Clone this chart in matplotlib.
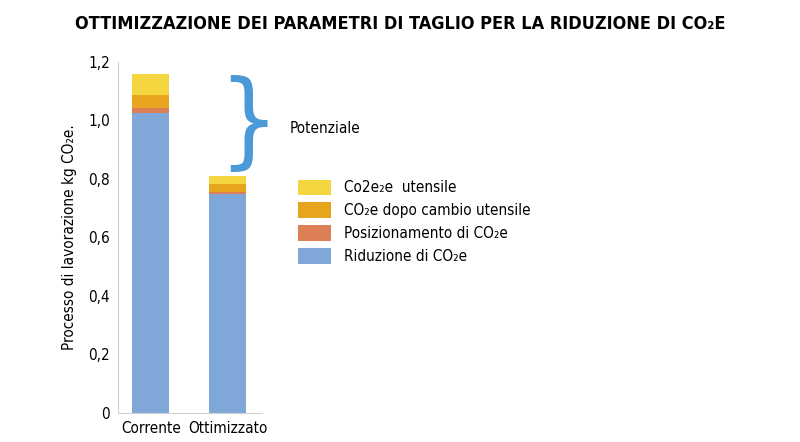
import matplotlib
matplotlib.use("Agg")
import matplotlib.pyplot as plt

plt.rcParams["font.family"] = "DejaVu Sans"
plt.rcParams["font.stretch"] = "condensed"

categories = ["Corrente", "Ottimizzato"]
riduzione = [1.025, 0.748]
posizionamento = [0.016, 0.007]
dopo_cambio = [0.045, 0.027]
utensile = [0.072, 0.028]
yticks = [0, 0.2, 0.4, 0.6, 0.8, 1.0, 1.2]
ytick_labels = ["0", "0,2", "0,4", "0,6", "0,8", "1,0", "1,2"]

series = [
    (riduzione, "#7fa8d8", "Riduzione di CO₂e"),
    (posizionamento, "#dc7f55", "Posizionamento di CO₂e"),
    (dopo_cambio, "#e6a51c", "CO₂e dopo cambio utensile"),
    (utensile, "#f3d640", "Co2e₂e  utensile"),
]

fig = plt.figure(figsize=(8, 4.42), dpi=100)
ax = fig.add_axes([0.148, 0.066, 0.18, 0.794])
x = [0, 1]
bottom = [0, 0]
handles = []
for vals, col, lab in series:
    b = ax.bar(x, vals, bottom=bottom, width=0.48, color=col, label=lab)
    handles.append(b)
    bottom = [bo + v for bo, v in zip(bottom, vals)]
ax.set_xlim(-0.42, 1.45)
ax.set_ylim(0, 1.2)
ax.set_yticks(yticks)
ax.set_yticklabels(ytick_labels, fontsize=11)
ax.set_xticks(x)
ax.set_xticklabels(categories, fontsize=11)
ax.tick_params(length=0, pad=6)
for s in ["top", "right"]:
    ax.spines[s].set_visible(False)
for s in ["left", "bottom"]:
    ax.spines[s].set_color("#d0d0d0")
ax.set_ylabel("Processo di lavorazione kg CO₂e.", fontsize=11, labelpad=8)

fig.text(0.5, 0.945, "OTTIMIZZAZIONE DEI PARAMETRI DI TAGLIO PER LA RIDUZIONE DI CO₂E",
         ha="center", va="center", fontsize=13, fontweight="bold")
fig.text(0.31, 0.715, "}", fontsize=76, color="#4a9ad8", ha="center", va="center",
         fontweight="light")
fig.text(0.362, 0.71, "Potenziale", fontsize=11, va="center")

leg = fig.legend(handles[::-1], [s[2] for s in series][::-1], loc="upper left",
                 bbox_to_anchor=(0.355, 0.625), frameon=False, fontsize=11,
                 handlelength=2.2, handleheight=1.2, labelspacing=0.45)
fig.savefig("out.png", dpi=100)
